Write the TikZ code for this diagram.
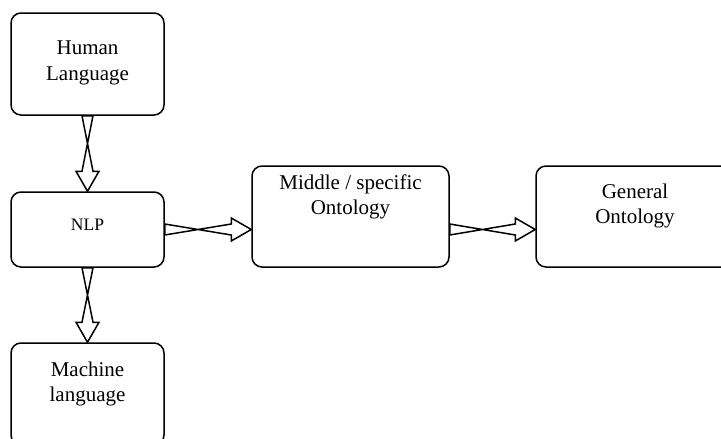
\documentclass[tikz,border=0pt]{standalone}
\usepackage{fontspec}
\setmainfont{Liberation Serif}
\usetikzlibrary{calc}
\tikzset{
  box/.style={draw, line width=1.5pt, rounded corners=10pt, inner sep=0pt},
  lbl/.style={align=center, inner sep=0pt, font=\fontsize{21}{25.5}\selectfont},
  blockarrow/.style={draw, line width=1.5pt, line join=miter,
    to path={
      ($(\tikztostart)!5.5pt!90:(\tikztotarget)$)
      -- ($(\tikztotarget)!20pt!(\tikztostart)!5.5pt!-90:(\tikztotarget)$)
      -- ($(\tikztotarget)!20pt!(\tikztostart)!11.5pt!-90:(\tikztotarget)$)
      -- (\tikztotarget)
      -- ($(\tikztotarget)!20pt!(\tikztostart)!11.5pt!90:(\tikztotarget)$)
      -- ($(\tikztotarget)!20pt!(\tikztostart)!5.5pt!90:(\tikztotarget)$)
      -- ($(\tikztostart)!5.5pt!-90:(\tikztotarget)$)
      -- cycle}}
}
\begin{document}
\begin{tikzpicture}[x=1pt, y=-1pt]
  \path[use as bounding box, clip] (0,0) rectangle (721,439);
  % boxes
  \node[box, minimum width=153pt, minimum height=102pt] (hl) at (87.5,64) {};
  \node[box, minimum width=153pt, minimum height=75pt] (nlp) at (87.5,229.5) {};
  \node[box, minimum width=153pt, minimum height=102pt] (ml) at (87.5,394) {};
  \node[box, minimum width=197pt, minimum height=101pt] (mid) at (350.5,216.5) {};
  \node[box, minimum width=198pt, minimum height=101pt] (gen) at (635,216.5) {};
  % texts
  \node[lbl] (hlt) at (87.5,63) {Human\\Language};
  \node[lbl, font=\fontsize{17.5}{21}\selectfont] (nlpt) at (87.5,225) {NLP};
  \node[lbl] (mlt) at (87.5,384) {Machine\\language};
  \node[lbl] (midt) at (350.5,197) {Middle / specific\\Ontology};
  \node[lbl] (gent) at (635,206) {General\\Ontology};
  % arrows
  \draw[blockarrow] (hl.south) to (nlp.north);
  \draw[blockarrow] (nlp.south) to (ml.north);
  \draw[blockarrow] (nlp.east) to (nlp.east -| mid.west);
  \draw[blockarrow] (mid.east |- nlp.east) to (gen.west |- nlp.east);
\end{tikzpicture}
\end{document}
